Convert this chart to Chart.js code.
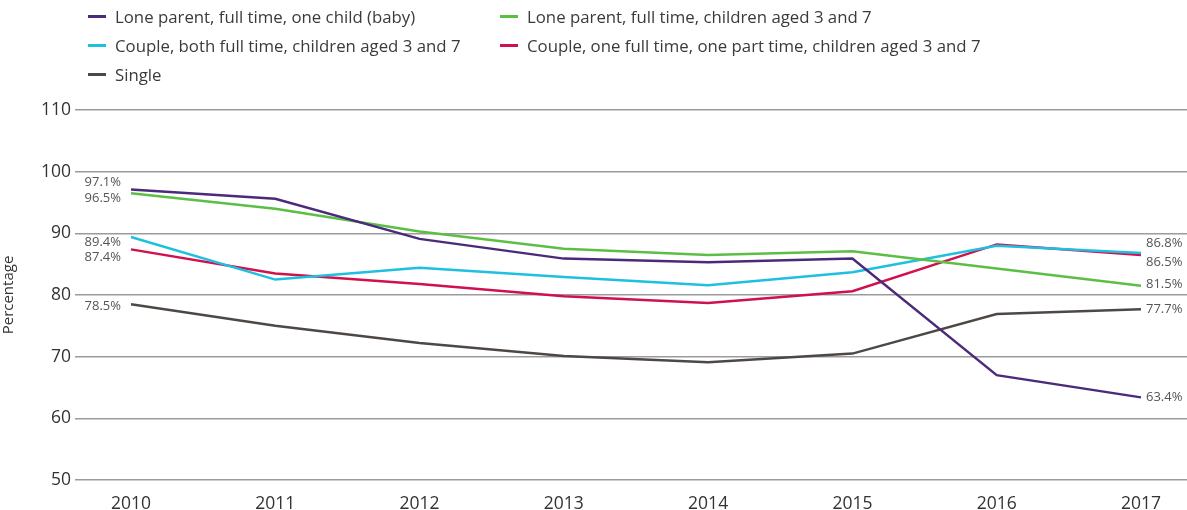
<!DOCTYPE html>
<html>
<head>
<meta charset="utf-8">
<script src="https://cdn.jsdelivr.net/npm/chart.js@4/dist/chart.umd.min.js"></script>
<style>
  html, body { margin: 0; padding: 0; background: #fff; }
  #wrap { position: relative; width: 1187px; height: 510px; }
  #legend {
    position: absolute; left: 88px; top: 2px;
    display: grid; grid-template-columns: 412px auto;
    font-family: "Open Sans", sans-serif; font-size: 16.8px; color: #3a3a3a;
    white-space: nowrap;
  }
  #legend .item { display: flex; align-items: center; height: 29px; }
  #legend .swatch { width: 18px; height: 3px; margin-right: 9px; flex: none; }
</style>
</head>
<body>
<div id="wrap">
  <canvas id="chart" width="1187" height="510"></canvas>
  <div id="legend"></div>
</div>
<script>
const years = [2010, 2011, 2012, 2013, 2014, 2015, 2016, 2017];
const yTicks = [50, 60, 70, 80, 90, 100, 110];

const seriesNames = [
  "Lone parent, full time, one child (baby)",
  "Lone parent, full time, children aged 3 and 7",
  "Couple, both full time, children aged 3 and 7",
  "Couple, one full time, one part time, children aged 3 and 7",
  "Single"
];
const loneParentBaby = [97.1, 95.6, 89.1, 85.9, 85.3, 85.9, 67.0, 63.4];
const loneParentChildren = [96.5, 94.0, 90.3, 87.5, 86.5, 87.1, 84.3, 81.5];
const coupleBothFull = [89.4, 82.5, 84.4, 82.9, 81.6, 83.7, 88.0, 86.8];
const coupleFullPart = [87.4, 83.5, 81.8, 79.8, 78.7, 80.6, 88.2, 86.5];
const single = [78.5, 75.0, 72.2, 70.1, 69.1, 70.5, 76.9, 77.7];

const colors = ["#4b2a7b", "#5cbf45", "#1fc0df", "#d0114d", "#4e4845"];
const allSeries = [loneParentBaby, loneParentChildren, coupleBothFull, coupleFullPart, single];

// vertical nudges for the end labels so they don't overlap
const leftNudge = [-7, 5, 5, 8, 2];
const rightNudge = [0, -1, -10, 7, 0];

// legend as html, two columns like the original
const legendEl = document.getElementById('legend');
seriesNames.forEach((name, i) => {
  const item = document.createElement('div');
  item.className = 'item';
  item.innerHTML = '<span class="swatch" style="background:' + colors[i] + '"></span>' + name;
  legendEl.appendChild(item);
});

const endLabels = {
  id: 'endLabels',
  afterDatasetsDraw(chart) {
    const ctx = chart.ctx;
    ctx.save();
    ctx.font = '13px "Open Sans", sans-serif';
    ctx.fillStyle = '#555';
    ctx.textBaseline = 'middle';
    chart.data.datasets.forEach((ds, i) => {
      const pts = chart.getDatasetMeta(i).data;
      const first = pts[0], last = pts[pts.length - 1];
      ctx.textAlign = 'right';
      ctx.fillText(ds.data[0].y.toFixed(1) + '%', first.x - 10, first.y + leftNudge[i]);
      ctx.textAlign = 'left';
      ctx.fillText(ds.data[ds.data.length - 1].y.toFixed(1) + '%', last.x + 5, last.y + rightNudge[i]);
    });
    ctx.restore();
  }
};

new Chart(document.getElementById('chart'), {
  type: 'line',
  data: {
    datasets: allSeries.map((vals, i) => ({
      label: seriesNames[i],
      data: vals.map((v, k) => ({ x: years[k], y: v })),
      borderColor: colors[i],
      backgroundColor: colors[i],
      borderWidth: 2.5,
      pointRadius: 0,
      tension: 0,
      fill: false
    }))
  },
  options: {
    responsive: false,
    animation: false,
    layout: { padding: { top: 110, right: 0, left: 0, bottom: 0 } },
    plugins: {
      legend: { display: false },
      tooltip: { enabled: false }
    },
    scales: {
      x: {
        type: 'linear',
        min: 2009.612,
        max: 2017.319,
        afterBuildTicks(scale) {
          scale.ticks = years.map(v => ({ value: v }));
        },
        afterFit(scale) { scale.height = 30; },
        grid: { display: false },
        border: { display: false },
        ticks: {
          padding: 6,
          color: '#333',
          font: { family: 'Open Sans', size: 17.5 },
          callback: v => String(v)
        }
      },
      y: {
        min: 50,
        max: 110,
        afterBuildTicks(scale) {
          scale.ticks = yTicks.map(v => ({ value: v }));
        },
        afterFit(scale) { scale.width = 75; },
        grid: { color: '#9b9b9b', lineWidth: 1.5, drawTicks: false },
        border: { display: false },
        ticks: {
          padding: 4,
          color: '#333',
          font: { family: 'Open Sans', size: 17.5 }
        },
        title: {
          display: true,
          text: 'Percentage',
          color: '#333',
          padding: 0,
          font: { family: 'Open Sans', size: 15 }
        }
      }
    }
  },
  plugins: [endLabels]
});
</script>
</body>
</html>
